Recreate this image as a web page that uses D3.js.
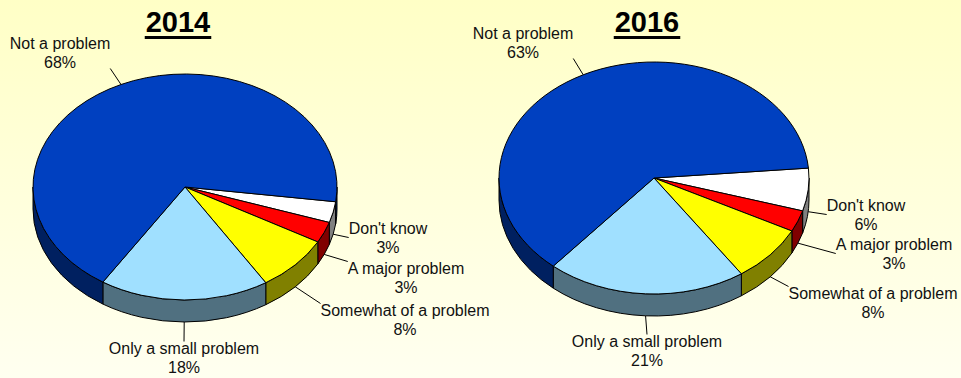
<!DOCTYPE html>
<html>
<head>
<meta charset="utf-8">
<script src="https://cdn.jsdelivr.net/npm/d3@7/dist/d3.min.js"></script>
<style>
  html, body { margin: 0; padding: 0; background: #fff; }
  svg { display: block; }
  text { font-family: "Liberation Sans", Arial, sans-serif; }
</style>
</head>
<body>
<svg id="chart" width="961" height="378"></svg>
<script>
// Survey answers, drawn clockwise starting with "Don't know"
const categories = ["Don't know", "A major problem", "Somewhat of a problem", "Only a small problem", "Not a problem"];
const values2014 = [3, 3, 8, 18, 68];
const values2016 = [6, 3, 8, 21, 63];
const years = ["2014", "2016"];

// Slice colours (top face); side walls are the same hue at half brightness
const topColors  = ["#ffffff", "#ff0000", "#ffff00", "#a0e0ff", "#0040c0"];
const sideColors = ["#808080", "#800000", "#808000", "#507080", "#002060"];

// Pie geometry and label placement for each year
const layouts = [
  { cx: 185, cy: 187, rx: 152, ry: 113, depth: 22, start: 97.5, titleX: 178,
    labels: [[388, 228], [406, 268], [405, 310], [184, 348], [60, 43]] },
  { cx: 654, cy: 178, rx: 155, ry: 116, depth: 22, start: 85.1, titleX: 647,
    labels: [[866, 205], [894, 244], [873, 293], [647, 341], [523, 33]] }
];

const svg = d3.select("#chart");
const W = 961, H = 378;

// pale yellow backdrop fading downward
const defs = svg.append("defs");
const grad = defs.append("linearGradient").attr("id", "bg").attr("x1", 0).attr("y1", 0).attr("x2", 0).attr("y2", 1);
grad.append("stop").attr("offset", "0%").attr("stop-color", "#ffffc6");
grad.append("stop").attr("offset", "100%").attr("stop-color", "#fffff0");
svg.append("rect").attr("width", W).attr("height", H).attr("fill", "url(#bg)");

const rad = d => d * Math.PI / 180;

function drawPie(values, year, L) {
  const g = svg.append("g");
  const pie = d3.pie().sort(null)
    .startAngle(rad(L.start)).endAngle(rad(L.start) + 2 * Math.PI);
  const arcs = pie(values);

  const pt = (a, dy = 0) => [L.cx + L.rx * Math.sin(a), L.cy - L.ry * Math.cos(a) + dy];
  const fmt = p => p[0].toFixed(2) + "," + p[1].toFixed(2);

  // side walls: only the front half of the rim (angles pi/2 .. 3pi/2) is visible
  const sides = [];
  arcs.forEach((d, i) => {
    for (let k = -1; k <= 1; k++) {
      const lo = Math.PI / 2 + k * 2 * Math.PI, hi = 3 * Math.PI / 2 + k * 2 * Math.PI;
      const a0 = Math.max(d.startAngle, lo), a1 = Math.min(d.endAngle, hi);
      if (a1 - a0 > 1e-4) sides.push({ i, a0, a1 });
    }
  });
  g.selectAll("path.side").data(sides).join("path")
    .attr("class", "side")
    .attr("d", s => {
      const p0 = pt(s.a0), p1 = pt(s.a1), q1 = pt(s.a1, L.depth), q0 = pt(s.a0, L.depth);
      return `M${fmt(p0)} A${L.rx},${L.ry} 0 0 1 ${fmt(p1)} L${fmt(q1)} A${L.rx},${L.ry} 0 0 0 ${fmt(q0)} Z`;
    })
    .attr("fill", s => sideColors[s.i])
    .attr("stroke", "#000").attr("stroke-width", 1).attr("stroke-linejoin", "round");

  // top faces
  g.selectAll("path.top").data(arcs).join("path")
    .attr("class", "top")
    .attr("d", d => {
      const p0 = pt(d.startAngle), p1 = pt(d.endAngle);
      const large = d.endAngle - d.startAngle > Math.PI ? 1 : 0;
      return `M${L.cx},${L.cy} L${fmt(p0)} A${L.rx},${L.ry} 0 ${large} 1 ${fmt(p1)} Z`;
    })
    .attr("fill", (d, i) => topColors[i])
    .attr("stroke", "#000").attr("stroke-width", 1).attr("stroke-linejoin", "round");

  // data labels with leader lines; the leader meets the label box at a corner
  // or an edge midpoint, depending on which side of the box it comes from
  arcs.forEach((d, i) => {
    const mid = (d.startAngle + d.endAngle) / 2;
    const front = Math.cos(mid) < 0;
    const p = pt(mid, front ? L.depth : 0);
    const [lx, ly] = L.labels[i];
    const t = g.append("text").attr("text-anchor", "middle")
      .attr("font-size", 16).attr("fill", "#111");
    t.append("tspan").attr("x", lx).attr("y", ly + 5.5).text(categories[i]);
    t.append("tspan").attr("x", lx).attr("y", ly + 24.5).text(values[i] + "%");
    const b = t.node().getBBox();
    const top = b.y + 2, bot = b.y + b.height - 2;
    const ex = p[0] < b.x ? b.x : p[0] > b.x + b.width ? b.x + b.width : b.x + b.width / 2;
    const ey = p[1] < top ? top : p[1] > bot ? bot : (top + bot) / 2;
    g.append("line")
      .attr("x1", p[0]).attr("y1", p[1]).attr("x2", ex).attr("y2", ey)
      .attr("stroke", "#000").attr("stroke-width", 1);
  });

  // year heading, bold and underlined
  const title = g.append("text").attr("x", L.titleX).attr("y", 32)
    .attr("text-anchor", "middle").attr("font-size", 29).attr("font-weight", "bold")
    .attr("fill", "#000").text(year);
  const tb = title.node().getBBox();
  g.append("rect").attr("x", tb.x - 1).attr("y", 36).attr("width", tb.width + 2).attr("height", 3).attr("fill", "#000");
}

drawPie(values2014, years[0], layouts[0]);
drawPie(values2016, years[1], layouts[1]);
</script>
</body>
</html>
